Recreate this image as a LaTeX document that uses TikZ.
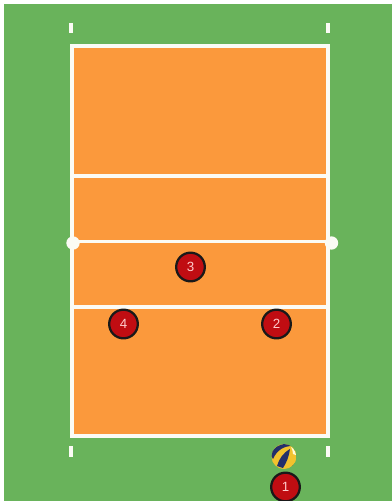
\documentclass[tikz,border=0pt]{standalone}
\usepackage{fontspec}
\setmainfont{Liberation Sans}
\tikzset{
  x=0.75pt,y=-0.75pt,
  courtline/.style={draw=courtwhite,line width=2.4pt},
  tick/.style={draw=courtwhite,line width=2.6pt},
  netdot/.style={circle,fill=courtwhite,draw=none,minimum size=10pt,inner sep=0pt},
  player/.style={circle,fill=playerred,draw=black!90,line width=1.7pt,minimum size=21.5pt,inner sep=0pt,text=white!80!red,font=\fontsize{10}{10}\selectfont},
}
\definecolor{courtgreen}{HTML}{69B35B}
\definecolor{courtorange}{HTML}{FB993C}
\definecolor{courtwhite}{HTML}{FBFBF5}
\definecolor{playerred}{HTML}{C00D12}
\definecolor{ballyellow}{HTML}{F2C22E}
\definecolor{ballblue}{HTML}{232F6B}
\begin{document}
\begin{tikzpicture}
\useasboundingbox (0,0) rectangle (392,501);
\fill[white] (0,0) rectangle (392,501);
\fill[courtgreen] (4,4) rectangle (392,501);
\draw[courtline,fill=courtorange] (72,46) rectangle (328,436);
\draw[courtline] (72,176) -- (328,176);
\draw[courtline] (72,241.5) -- (331,241.5);
\draw[courtline] (72,307) -- (328,307);
\foreach \tx in {71,328}{
  \draw[tick] (\tx,23) -- (\tx,33);
  \draw[tick] (\tx,446) -- (\tx,457);
}
\node[netdot] (netL) at (73,243) {};
\node[netdot] (netR) at (331.5,243) {};
\node[player] (p3) at (190.5,267) {3};
\node[player] (p4) at (123.5,324) {4};
\node[player] (p2) at (276.5,324) {2};
\node[player] (p1) at (285.5,487) {1};
% ball
\begin{scope}
\clip (284,456.5) circle (12.5);
\fill[ballyellow] (284,456.5) circle (12.5);
\fill[ballblue] (271,455) .. controls (273,447) and (281,443) .. (290,444) -- (292,446) .. controls (284,446) and (277,450) .. (273,459) -- cycle;
\fill[ballblue] (277,466) .. controls (279,459) and (283,453) .. (290,449) .. controls (289,456) and (287,462) .. (283,468) -- cycle;
\fill[ballblue!60!black] (291,467) .. controls (294,465) and (296,462) .. (297,459) -- (298,469) -- cycle;
\fill[white!85!yellow] (291,447) .. controls (294,449) and (296,452) .. (296,455) -- (293,454) .. controls (293,451) and (292,449) .. (291,447) -- cycle;
\end{scope}
\end{tikzpicture}
\end{document}
